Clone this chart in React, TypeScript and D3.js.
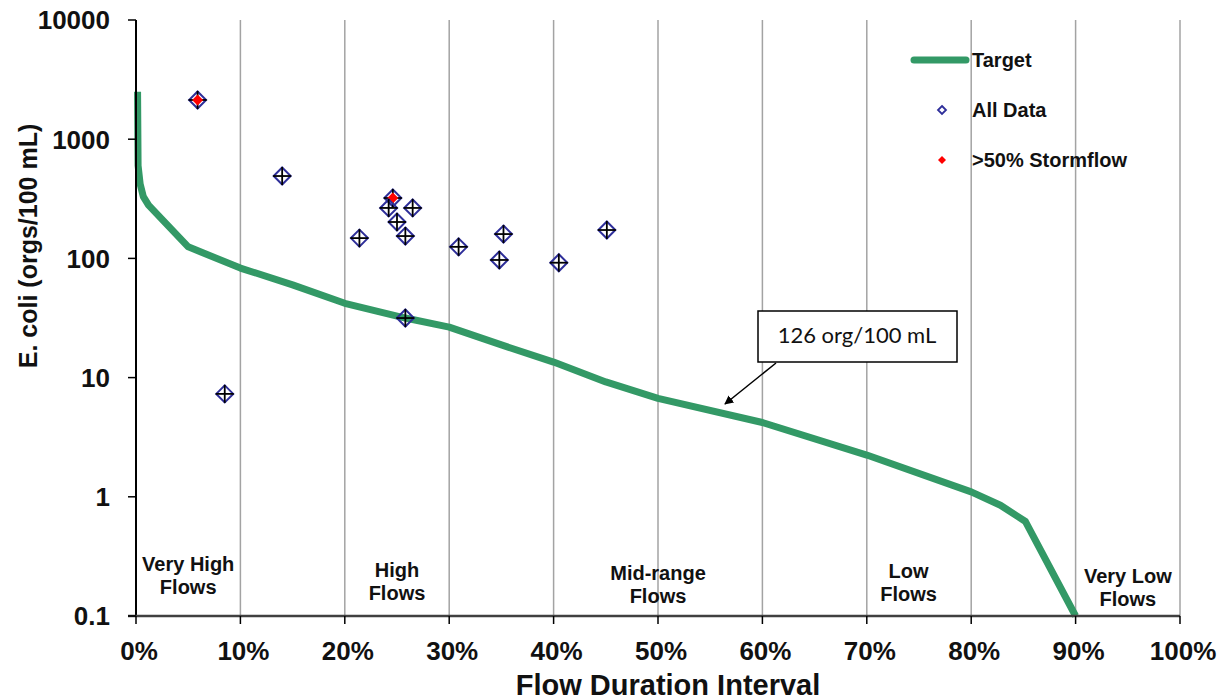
import React from "react";
import * as d3 from "d3";

// ---- data ----
const targetFlow = [0.0015, 0.002, 0.004, 0.007, 0.012, 0.05, 0.1, 0.15, 0.2, 0.258, 0.3, 0.35, 0.4, 0.45, 0.5, 0.6, 0.7, 0.8, 0.828, 0.852, 0.9];
const targetValue = [2500, 600, 420, 330, 280, 125, 83, 60, 42, 31.6, 26.5, 18.8, 13.5, 9.2, 6.7, 4.2, 2.24, 1.1, 0.85, 0.62, 0.1];

const sampleFlow = [0.059, 0.085, 0.14, 0.246, 0.242, 0.265, 0.25, 0.258, 0.214, 0.309, 0.352, 0.348, 0.405, 0.451, 0.258];
const sampleValue = [2133, 7.3, 491, 321, 265, 265, 202, 154, 148, 125, 160, 97, 92, 173, 31.6];
const sampleStorm = [true, false, false, true, false, false, false, false, false, false, false, false, false, false, false];

const yTicks = [0.1, 1, 10, 100, 1000, 10000];
const yTickLabels = ["0.1", "1", "10", "100", "1000", "10000"];
const xTicks = [0, 0.1, 0.2, 0.3, 0.4, 0.5, 0.6, 0.7, 0.8, 0.9, 1.0];
const xTickLabels = ["0%", "10%", "20%", "30%", "40%", "50%", "60%", "70%", "80%", "90%", "100%"];

const zoneCenters = [0.05, 0.25, 0.5, 0.74, 0.95];
const zoneLines = [["Very High", "Flows"], ["High", "Flows"], ["Mid-range", "Flows"], ["Low", "Flows"], ["Very Low", "Flows"]];
const zoneLineOffsets = [-45, -39, -36, -38, -33];

const legendLabels = ["Target", "All Data", ">50% Stormflow"];
const annotationText = "126 org/100 mL";

const GREEN = "#339966";
const BLUE = "#2e2e9a";
const FONT = "'Liberation Sans', Arial, sans-serif";

export default function App() {
  const x = d3.scaleLinear().domain([0, 1]).range([136, 1180]);
  const y = d3.scaleLog().domain([0.1, 10000]).range([616, 20]);
  const line = d3
    .line<number>()
    .x((_, i) => x(targetFlow[i]))
    .y((d) => y(d))
    .curve(d3.curveLinear);
  const pathD = line(targetValue) || "";

  const diamond = (cx: number, cy: number, r: number) =>
    `M${cx},${cy - r}L${cx + r},${cy}L${cx},${cy + r}L${cx - r},${cy}Z`;

  const [y0, y1] = y.range();

  return (
    <svg width={1222} height={700} style={{ display: "block", position: "absolute", left: 0, top: 0, background: "#fff" }} fontFamily={FONT}>
      <rect x={0} y={0} width={1222} height={700} fill="#fff" />
      <defs>
        <marker id="arrow" viewBox="0 0 10 10" refX="9" refY="5" markerWidth="6" markerHeight="6" orient="auto">
          <path d="M0,0L10,5L0,10Z" fill="#000" />
        </marker>
      </defs>
      {/* gridlines */}
      {xTicks.slice(1).map((t) => (
        <line key={"g" + t} x1={x(t)} x2={x(t)} y1={y1} y2={y0} stroke="#a3a3a3" strokeWidth={1.5} />
      ))}
      {/* zone labels */}
      {zoneCenters.map((c, i) => (
        <text key={"z" + i} x={x(c)} y={y0 + zoneLineOffsets[i]} textAnchor="middle" fontSize={20} fontWeight="bold" fill="#111">
          <tspan x={x(c)}>{zoneLines[i][0]}</tspan>
          <tspan x={x(c)} dy={23}>{zoneLines[i][1]}</tspan>
        </text>
      ))}
      {/* target line */}
      <path d={pathD} fill="none" stroke={GREEN} strokeWidth={7} strokeLinejoin="round" />
      {/* samples */}
      {sampleFlow.map((f, i) => {
        const cx = x(f);
        const cy = y(sampleValue[i]);
        return (
          <g key={"s" + i}>
            <path d={diamond(cx, cy, 8.5)} fill="none" stroke={BLUE} strokeWidth={2} />
            <line x1={cx - 9} x2={cx + 9} y1={cy} y2={cy} stroke="#000" strokeWidth={1.8} />
            <line x1={cx} x2={cx} y1={cy - 9} y2={cy + 9} stroke="#000" strokeWidth={1.8} />
            {sampleStorm[i] && <path d={diamond(cx, cy, 5.5)} fill="#ff0000" />}
          </g>
        );
      })}
      {/* axes */}
      <line x1={x(0)} x2={x(0)} y1={y1} y2={y0} stroke="#000" strokeWidth={2} />
      <line x1={128} x2={x(1)} y1={y0} y2={y0} stroke="#404040" strokeWidth={2.5} />
      {yTicks.map((t, i) => (
        <g key={"y" + t}>
          <line x1={x(0) - 8} x2={x(0)} y1={y(t)} y2={y(t)} stroke="#000" strokeWidth={1.5} />
          <text x={110} y={y(t)} dy="0.36em" textAnchor="end" fontSize={26} fontWeight="bold" fill="#111">
            {yTickLabels[i]}
          </text>
        </g>
      ))}
      {xTicks.map((t, i) => (
        <g key={"x" + t}>
          <line x1={x(t)} x2={x(t)} y1={y0} y2={y0 + 8} stroke="#000" strokeWidth={1.5} />
          <text x={x(t) + 3} y={660} textAnchor="middle" fontSize={26} fontWeight="bold" fill="#111">
            {xTickLabels[i]}
          </text>
        </g>
      ))}
      <text x={668} y={695} textAnchor="middle" fontSize={29} fontWeight="bold" fill="#111">
        Flow Duration Interval
      </text>
      <text transform="translate(37,246) rotate(-90)" textAnchor="middle" fontSize={25} fontWeight="bold" fill="#111">
        E. coli (orgs/100 mL)
      </text>
      {/* legend */}
      <line x1={914} x2={966} y1={60} y2={60} stroke={GREEN} strokeWidth={7} strokeLinecap="round" />
      <path d={diamond(942, 110, 4)} fill="none" stroke={BLUE} strokeWidth={1.8} />
      <path d={diamond(942, 160, 4)} fill="#ff0000" />
      {legendLabels.map((l, i) => (
        <text key={"l" + i} x={972} y={60 + i * 50} dy="0.36em" fontSize={20} fontWeight="bold" fill="#111">
          {l}
        </text>
      ))}
      {/* annotation */}
      <rect x={758} y={311} width={199} height={51} fill="#fff" stroke="#000" strokeWidth={1.5} />
      <text x={857} y={343} textAnchor="middle" fontSize={22} fontFamily="Lato, 'Open Sans', sans-serif" fill="#111">
        {annotationText}
      </text>
      <line x1={776} y1={363} x2={725} y2={404} stroke="#000" strokeWidth={1.5} markerEnd="url(#arrow)" />
    </svg>
  );
}
